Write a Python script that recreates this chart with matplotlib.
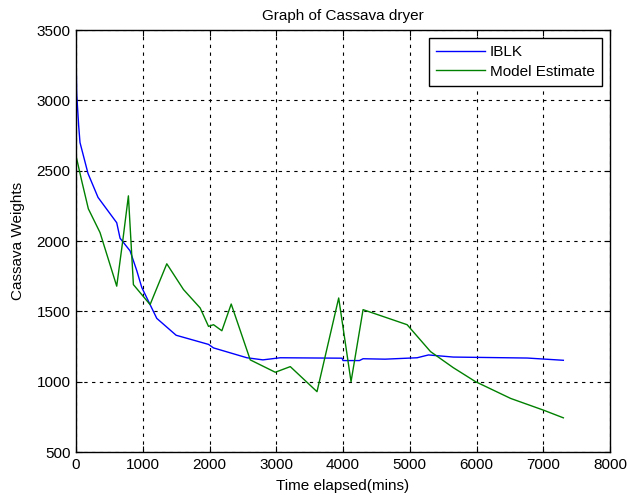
import matplotlib
matplotlib.use("Agg")
from matplotlib import pyplot as plt

plt.rcParams['font.family'] = ['Liberation Sans', 'DejaVu Sans']

# Data
iblk_t = [0, 10, 40, 60, 180, 330, 610, 660, 810, 910, 985, 1210, 1500, 1985,
          2060, 2560, 2800, 3060, 3985, 4000, 4245, 4300, 4630, 5110, 5280,
          5650, 6760, 7100, 7300]
iblk_w = [3360, 3050, 2820, 2700, 2480, 2310, 2130, 2020, 1930, 1790, 1670,
          1450, 1330, 1265, 1240, 1170, 1155, 1170, 1167, 1150, 1150, 1163,
          1160, 1170, 1190, 1175, 1168, 1158, 1152]

model_t = [0, 85, 185, 360, 610, 700, 785, 860, 1110, 1360, 1610, 1860, 1985,
           2060, 2185, 2325, 2610, 2985, 3210, 3610, 3935, 4120, 4300, 4960,
           5310, 5650, 5985, 6510, 7000, 7300]
model_w = [2607, 2429, 2229, 2060, 1679, 2000, 2321, 1690, 1548, 1838, 1655,
           1524, 1393, 1405, 1362, 1552, 1155, 1067, 1107, 929, 1595, 1000,
           1512, 1405, 1214, 1100, 1000, 881, 798, 743]

# Figure
fig = plt.figure(figsize=(6.27, 4.96), dpi=100)
ax = fig.add_axes([0.1212, 0.0887, 0.8518, 0.8508])

ax.plot(iblk_t, iblk_w, color=(0, 0, 1), lw=1, label='IBLK')
ax.plot(model_t, model_w, color=(0, 0.5, 0), lw=1, label='Model Estimate')

ax.set_xlim(0, 8000)
ax.set_ylim(500, 3500)
ax.set_xticks(range(0, 8001, 1000))
ax.set_yticks(range(500, 3501, 500))

ax.grid(True, color='black', linestyle=(0, (3, 4)), lw=0.8)
ax.tick_params(direction='in', top=True, right=True, labelsize=11, length=4, pad=4)
for s in ax.spines.values():
    s.set_linewidth(1)

ax.set_title('Graph of Cassava dryer', fontsize=11, pad=7)
ax.set_xlabel('Time elapsed(mins)', fontsize=11, labelpad=5)
ax.set_ylabel('Cassava Weights', fontsize=11, labelpad=8)

leg = ax.legend(loc='upper right', fontsize=11, fancybox=False, framealpha=1,
                edgecolor='black', handlelength=3.2, handletextpad=0.3,
                borderaxespad=0.5, borderpad=0.5, labelspacing=0.35)
leg.get_frame().set_linewidth(1)

fig.savefig('out.png', dpi=100)
